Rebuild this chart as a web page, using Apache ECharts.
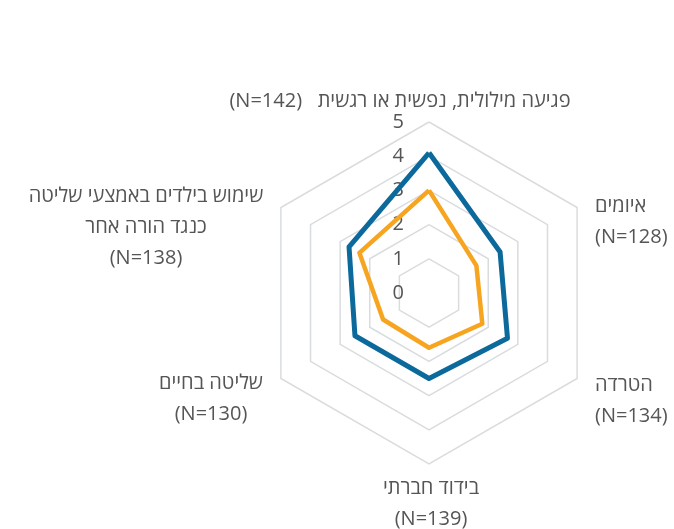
<!DOCTYPE html>
<html>
<head>
<meta charset="utf-8">
<script src="https://cdn.jsdelivr.net/npm/echarts@6/dist/echarts.min.js"></script>
<style>
  html, body { margin: 0; padding: 0; background: #ffffff; }
  #chart { width: 674px; height: 529px; }
</style>
</head>
<body>
<div id="chart"></div>
<script>
// indicators, counter-clockwise from the top
var categories = [
  ["(N=142)   פגיעה מילולית, נפשית או רגשית"],
  ["שימוש בילדים באמצעי שליטה", "כנגד הורה אחר", "(N=138)"],
  ["שליטה בחיים", "(N=130)"],
  ["בידוד חברתי", "(N=139)"],
  ["הטרדה", "(N=134)"],
  ["איומים", "(N=128)"]
];
var seriesBlue = [4.1, 2.7, 2.5, 2.5, 2.65, 2.4];
var seriesOrange = [3.0, 2.35, 1.55, 1.6, 1.8, 1.6];
var axisMax = 5;

var font = '"Open Sans", "DejaVu Sans", sans-serif';
var textColor = "#555555";

// where each category name sits
var namePos = [
  { x: 400, y: 101, align: "center" },
  { x: 146, y: 227, align: "center" },
  { x: 211, y: 399, align: "center" },
  { x: 431, y: 504, align: "center" },
  { x: 595, y: 401, align: "left" },
  { x: 595, y: 222, align: "left" }
];

var chart = echarts.init(document.getElementById("chart"));

var indicator = categories.map(function (c, i) {
  var ind = { name: c.join(" "), min: 0, max: axisMax };
  if (i === 0) {
    ind.axisLabel = { show: true };
  }
  return ind;
});

var graphic = categories.map(function (c, i) {
  return {
    type: "text",
    style: {
      text: c.join("\n"),
      x: namePos[i].x,
      y: namePos[i].y,
      textAlign: namePos[i].align,
      textVerticalAlign: "middle",
      fontFamily: font,
      fontSize: 20,
      lineHeight: 31,
      fill: textColor
    }
  };
});

chart.setOption({
  animation: false,
  textStyle: { fontFamily: font },
  graphic: graphic,
  radar: {
    center: [429, 293],
    radius: 171,
    startAngle: 90,
    splitNumber: 5,
    shape: "polygon",
    indicator: indicator,
    axisName: { show: false },
    axisLine: { show: false },
    axisTick: { show: false },
    axisLabel: {
      show: false,
      showMinLabel: true,
      showMaxLabel: true,
      margin: 25,
      fontSize: 20,
      color: textColor,
      fontFamily: font
    },
    splitArea: { show: false },
    splitLine: {
      lineStyle: { color: "#d9dcdf", width: 1.5 }
    }
  },
  series: [
    {
      type: "radar",
      symbol: "none",
      data: [
        {
          value: seriesOrange,
          lineStyle: { color: "#f7a520", width: 4.5 }
        },
        {
          value: seriesBlue,
          lineStyle: { color: "#0b6a9b", width: 5 }
        }
      ]
    }
  ]
});
</script>
</body>
</html>
